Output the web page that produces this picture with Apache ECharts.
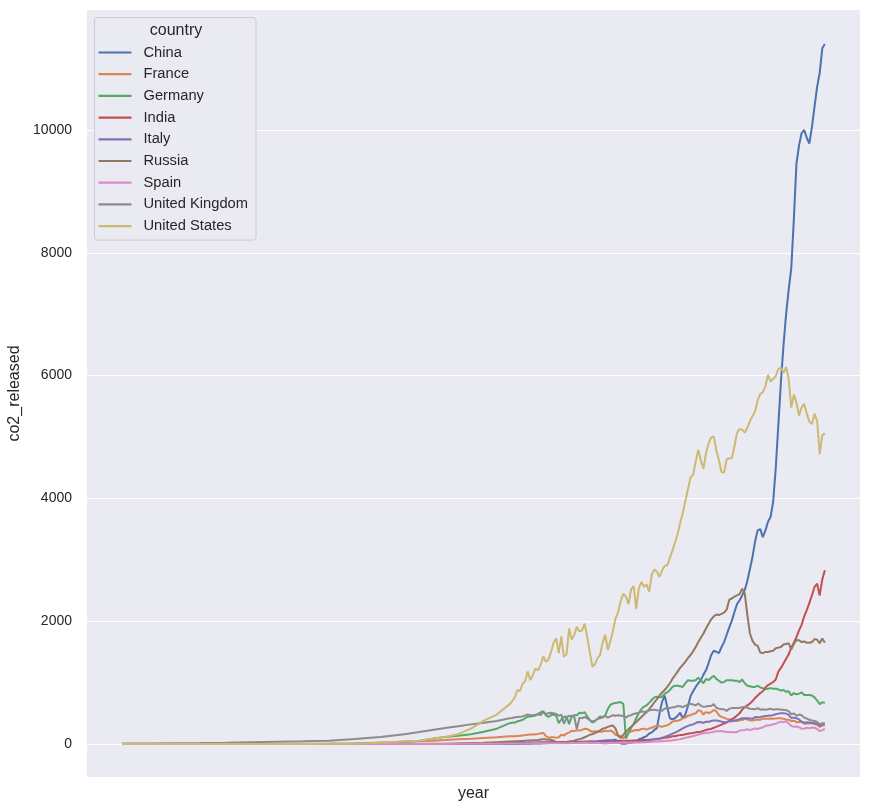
<!DOCTYPE html>
<html>
<head>
<meta charset="utf-8">
<script src="https://cdn.jsdelivr.net/npm/echarts@6/dist/echarts.min.js"></script>
<style>
html,body{margin:0;padding:0;background:#ffffff;}
#chart{width:871px;height:810px;}
</style>
</head>
<body>
<div id="chart"></div>
<script>
// x values: sparse early years, then every year 1900-2022
const earlyYears = [1750,1760,1770,1780,1790,1800,1810,1820,1830,1840,1850,1855,1860,1865,1870,1875,1880,1885,1890,1895];
const years = earlyYears.slice();
for (let y = 1900; y <= 2022; y++) years.push(y);

const countries = ['China','France','Germany','India','Italy','Russia','Spain','United Kingdom','United States'];
const colors = ['#4C72B0','#DD8452','#55A868','#C44E52','#8172B3','#937860','#DA8BC3','#8C8C8C','#CCB974'];
const yTicks = [0, 2000, 4000, 6000, 8000, 10000];

const china = [0,0,0,0,0,0,0,0,0,0,0,0,0,0,0,0,0,0,0,0,
 1,1,2,2,3,3,4,5,6,7,
 8,9,10,12,14,15,17,18,18,20,
 22,22,23,25,26,27,28,30,31,33,
 35,38,40,42,45,50,55,58,60,62,
 65,70,30,10,5,8,20,30,35,40,
 78,90,110,130,170,190,230,260,500,690,
 790,600,420,400,420,460,510,420,480,620,
 780,860,930,990,1040,1130,1200,1320,1450,1520,
 1500,1480,1580,1660,1780,1900,2010,2150,2280,2340,
 2420,2510,2660,2850,3050,3300,3480,3500,3370,3480,
 3620,3700,3950,4500,5200,5900,6500,7000,7400,7750,
 8550,9450,9750,9950,10000,9870,9780,10050,10380,10700,
 10930,11330,11400];

const france = [0,0,0,0.5,1,1.5,2,3,5,10,25,32,40,48,55,65,78,85,100,110,
 125,125,125,130,135,140,145,150,155,155,
 160,165,175,180,130,100,110,110,100,110,
 150,140,170,190,215,210,225,220,230,250,
 245,220,200,210,205,200,205,215,210,220,
 200,150,140,130,95,130,185,205,220,230,
 225,245,250,235,255,265,285,290,290,280,
 295,305,330,365,375,380,390,420,430,460,
 470,490,500,550,540,480,520,505,520,555,
 530,470,440,430,410,400,380,380,375,390,
 390,410,400,385,385,390,400,395,415,410,
 410,415,410,415,420,420,410,400,395,375,
 380,355,360,360,330,335,335,340,325,315,
 280,305,300];

const germany = [0,0,0,0,0,1,1,2,3,6,15,22,35,50,85,115,135,160,200,250,
 340,345,350,370,380,395,420,445,450,455,
 465,490,515,535,470,440,470,480,460,340,
 400,440,450,325,450,470,470,510,500,520,
 450,390,350,370,410,450,430,470,570,640,
 660,670,675,685,650,90,180,260,330,420,
 510,570,610,630,670,720,760,770,760,770,
 820,840,880,930,950,950,940,930,990,1040,
 1030,1030,1040,1080,1040,990,1060,1040,1080,1110,
 1060,1030,1000,1010,1040,1040,1040,1030,1030,1010,
 1050,990,950,940,930,930,950,920,910,890,
 900,910,900,900,890,870,880,850,860,790,
 830,810,820,840,800,800,800,790,760,710,
 650,680,670];

const india = [0,0,0,0,0,0,0,0,0,0,0,0,1,1,2,2,4,5,8,10,
 15,16,17,18,19,20,21,22,23,24,
 25,26,28,30,30,30,32,33,33,34,
 35,35,35,36,36,37,37,38,39,40,
 40,40,38,38,40,42,44,45,47,48,
 50,52,53,54,55,55,54,55,57,58,
 60,62,65,65,70,72,76,82,87,93,
 100,108,116,125,128,140,145,148,160,168,
 175,180,190,195,200,215,230,240,245,265,
 280,300,315,335,350,380,405,430,465,500,
 560,600,630,660,700,750,790,830,860,920,
 960,985,1010,1050,1180,1240,1310,1390,1460,1570,
 1650,1740,1850,1940,2080,2180,2300,2420,2560,2610,
 2420,2680,2830];

const italy = [0,0,0,0,0,0,0,0,0,0,0,0,0,1,2,2,3,4,5,6,
 8,9,10,11,12,13,14,15,16,17,
 18,19,20,20,19,20,20,18,16,15,
 18,20,22,24,25,27,28,29,30,31,
 30,28,28,30,32,34,35,38,40,42,
 45,42,40,30,15,12,18,25,28,32,
 35,40,46,52,60,68,78,85,92,102,
 115,130,150,170,185,205,230,255,275,295,
 310,320,340,360,355,345,365,360,375,385,
 385,375,365,355,360,370,370,385,390,405,
 420,420,420,415,410,440,435,440,450,455,
 460,465,470,485,495,500,500,495,475,425,
 430,420,400,365,345,355,350,345,340,330,
 295,330,330];

const russia = [0,0,0,0,0,0,0,0,0,0,1,1,2,3,4,6,10,15,20,30,
 40,42,44,46,48,50,53,56,58,60,
 62,66,72,80,75,70,70,55,30,20,
 20,25,30,40,45,55,70,80,90,110,
 130,150,160,180,200,220,250,260,280,295,
 300,250,130,100,150,200,240,280,320,360,
 400,440,480,520,570,620,680,730,790,840,
 880,930,990,1060,1120,1180,1240,1290,1340,1400,
 1450,1510,1580,1660,1730,1800,1880,1960,2030,2080,
 2110,2100,2120,2140,2190,2350,2370,2400,2420,2440,
 2530,2450,2100,1800,1680,1620,1600,1490,1480,1500,
 1500,1510,1520,1560,1570,1580,1620,1630,1640,1540,
 1630,1690,1690,1660,1670,1650,1650,1660,1710,1700,
 1640,1720,1650];

const spain = [0,0,0,0,0,0,0,0,0,0,0,0,1,1,2,2,3,4,5,6,
 8,8,9,9,9,10,10,10,10,11,
 11,11,12,12,11,11,12,12,11,12,
 13,13,14,14,15,15,16,17,18,19,
 19,18,17,17,18,17,12,10,12,15,
 16,17,18,19,20,20,22,23,24,24,
 25,27,30,32,35,37,40,42,45,45,
 48,52,55,60,65,72,80,90,100,110,
 120,130,140,155,165,175,185,185,190,200,
 210,210,210,205,195,195,190,190,195,220,
 225,230,240,230,240,255,245,260,270,295,
 305,305,325,330,350,365,355,370,335,295,
 280,285,275,250,250,265,255,270,265,245,
 210,225,245];

const uk = [9,10,13,17,22,30,38,45,55,80,115,140,165,195,230,260,290,320,345,375,
 420,425,435,440,445,450,465,480,470,470,
 475,485,470,515,490,500,510,500,490,460,
 480,330,430,460,455,440,240,430,420,440,
 420,390,370,380,410,420,440,460,430,450,
 470,460,470,460,460,430,460,470,490,500,
 510,530,525,530,550,555,560,550,545,540,
 580,580,585,600,600,620,615,600,620,640,
 655,645,630,660,625,605,610,620,620,650,
 590,575,565,565,540,575,585,585,585,590,
 600,605,590,575,570,565,585,560,565,560,
 565,575,560,565,565,560,560,550,535,485,
 500,460,480,470,430,415,395,385,375,360,
 320,340,335];

const us = [0,0,0,0,0,0.3,1,1.5,3,6,21,30,45,55,85,115,160,250,380,480,
 650,700,760,880,860,980,1030,1180,1040,1130,
 1230,1200,1290,1430,1340,1370,1500,1650,1720,1480,
 1750,1420,1460,1880,1700,1780,1910,1830,1850,1960,
 1750,1500,1260,1300,1400,1450,1650,1780,1530,1680,
 1850,2050,2150,2330,2450,2400,2280,2520,2570,2200,
 2540,2640,2560,2600,2480,2760,2840,2810,2720,2830,
 2900,2910,3030,3150,3280,3420,3600,3760,3960,4150,
 4340,4380,4600,4790,4620,4480,4740,4900,4990,5010,
 4780,4620,4430,4420,4640,4650,4660,4850,5070,5130,
 5120,5070,5150,5260,5340,5420,5600,5700,5730,5830,
 6010,5900,5950,5990,6110,6130,6050,6135,5940,5480,
 5690,5560,5350,5480,5540,5380,5250,5210,5380,5260,
 4720,5030,5060];

const seriesValues = [china, france, germany, india, italy, russia, spain, uk, us];

const FONT = "'Liberation Sans', Arial, sans-serif";
const TXT = '#262626';

const chart = echarts.init(document.getElementById('chart'), null, {renderer: 'canvas'});
chart.setOption({
  animation: false,
  backgroundColor: '#ffffff',
  grid: {left: 87, right: 11, top: 10, bottom: 33, show: true, backgroundColor: '#EAEAF2', borderWidth: 0,
         containLabel: false, outerBoundsMode: 'none'},
  xAxis: {
    type: 'value', min: 1736.4, max: 2035.6,
    name: 'year', nameLocation: 'middle', nameGap: 9,
    nameTextStyle: {color: TXT, fontSize: 16, fontFamily: FONT},
    axisLine: {show: false, onZero: false}, axisTick: {show: false},
    axisLabel: {show: false}, splitLine: {show: false}
  },
  yAxis: {
    type: 'value', min: -537, max: 11954,
    name: 'co2_released', nameLocation: 'middle', nameGap: 51, nameRotate: 90,
    nameTextStyle: {color: TXT, fontSize: 16, fontFamily: FONT},
    axisLine: {show: false},
    axisTick: {show: false, customValues: yTicks},
    axisLabel: {customValues: yTicks, color: TXT, fontSize: 14, fontFamily: FONT, margin: 15,
                formatter: v => String(v)},
    splitLine: {show: true, lineStyle: {color: '#ffffff', width: 1.2}}
  },
  legend: {
    orient: 'vertical', left: 94.5, top: 17.5,
    padding: [27.5, 8, 6.5, 4],
    itemWidth: 33, itemHeight: 2.2, itemGap: 6.7,
    icon: 'rect',
    backgroundColor: '#EAEAF2', borderColor: '#CCCCCC', borderWidth: 1, borderRadius: 3,
    textStyle: {color: TXT, fontSize: 14.7, fontFamily: FONT, padding: [0, 0, 0, 7]},
    data: countries
  },
  graphic: [{
    type: 'text', x: 176, y: 31, z: 100,
    style: {text: 'country', fill: TXT, fontSize: 16, fontFamily: FONT, textAlign: 'center', textVerticalAlign: 'middle'}
  }],
  series: countries.map((name, i) => ({
    name: name,
    type: 'line',
    symbol: 'none',
    showSymbol: false,
    color: colors[i],
    lineStyle: {width: 2, color: colors[i]},
    data: years.map((yr, j) => [yr, seriesValues[i][j]])
  }))
});
</script>
</body>
</html>
